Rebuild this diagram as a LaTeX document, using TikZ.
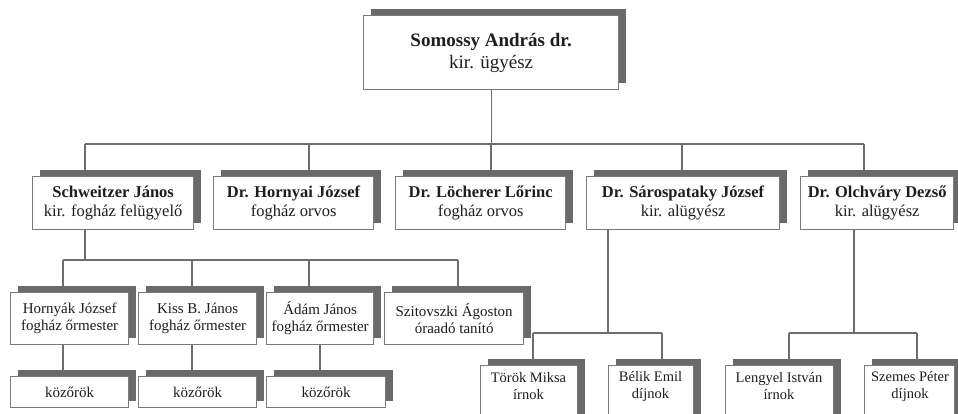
\documentclass[tikz,border=0pt]{standalone}
\usepackage{fontspec}
\setmainfont{Liberation Serif}
\usetikzlibrary{shadows}
\pgfdeclarelayer{bg}
\pgfsetlayers{bg,main}
\definecolor{linegray}{HTML}{6E6E6E}
\definecolor{boxgray}{HTML}{7A7A7A}
\definecolor{shadowgray}{HTML}{6A6A6A}
\definecolor{inkcol}{HTML}{1E1E1E}
\begin{document}
\begin{tikzpicture}[x=1pt,y=-1pt,
  card/.style={draw=boxgray, line width=1.3pt, fill=white, align=center, inner sep=0pt,
    anchor=north west, text=inkcol,
    general shadow={fill=shadowgray, shadow xshift=7pt, shadow yshift=7pt}},
  conn/.style={draw=linegray, line width=1.3pt},
  fa/.style={font=\fontsize{19}{22}\selectfont},
  fb/.style={font=\fontsize{16.5}{19}\selectfont},
  fc/.style={font=\fontsize{15}{17}\selectfont},
  fd/.style={font=\fontsize{14.5}{17}\selectfont, align=center, text=inkcol},
]
\useasboundingbox (0,0) rectangle (958,413);
\clip (0,0) rectangle (958,413);

% level 1
\node[card,fa,minimum width=255pt,minimum height=74pt] (top) at (363,15)
  {\textbf{Somossy András dr.}\\kir. ügyész};

% level 2
\node[card,fb,minimum width=161pt,minimum height=53pt] (s1) at (32,176)
  {\textbf{Schweitzer János}\\kir. fogház felügyelő};
\node[card,fb,minimum width=160pt,minimum height=53pt] (s2) at (213,176)
  {\textbf{Dr. Hornyai József}\\fogház orvos};
\node[card,fb,minimum width=170pt,minimum height=53pt] (s3) at (395,176)
  {\textbf{Dr. Löcherer Lőrinc}\\fogház orvos};
\node[card,fb,minimum width=193pt,minimum height=53pt] (s4) at (586,176)
  {\textbf{Dr. Sárospataky József}\\kir. alügyész};
\node[card,fb,minimum width=153pt,minimum height=53pt] (s5) at (800,176)
  {\textbf{Dr. Olchváry Dezső}\\kir. alügyész};

% level 3
\node[card,fc,minimum width=118pt,minimum height=52pt] (g1) at (10,292)
  {Hornyák József\\fogház őrmester};
\node[card,fc,minimum width=118pt,minimum height=52pt] (g2) at (138,292)
  {Kiss B. János\\fogház őrmester};
\node[card,fc,minimum width=107pt,minimum height=52pt] (g3) at (266,292)
  {Ádám János\\fogház őrmester};
\node[card,fc,minimum width=139pt,minimum height=52pt] (g4) at (384,292)
  {Szitovszki Ágoston\\óraadó tanító};

% level 4 left
\node[card,fc,minimum width=118pt,minimum height=31pt] (k1) at (10,376) {közőrök};
\node[card,fc,minimum width=118pt,minimum height=31pt] (k2) at (138,376) {közőrök};
\node[card,fc,minimum width=119pt,minimum height=31pt] (k3) at (266,376) {közőrök};

% level 4 right (cut off at the bottom)
\node[card,minimum width=97pt,minimum height=60pt] (c1) at (480,365) {};
\node[card,minimum width=85pt,minimum height=60pt] (c2) at (608,365) {};
\node[card,minimum width=108pt,minimum height=60pt] (c3) at (725,365) {};
\node[card,minimum width=90pt,minimum height=60pt] (c4) at (864,365) {};
\node[fd] (c1t) at (528.5,386.5) {Török Miksa\\írnok};
\node[fd] (c2t) at (650.5,386.5) {Bélik Emil\\díjnok};
\node[fd] (c3t) at (779,386.5) {Lengyel István\\írnok};
\node[fd] (c4t) at (910,386.5) {Szemes Péter\\díjnok};

\begin{pgfonlayer}{bg}
  % top to level 2
  \coordinate (j1) at (85,144);
  \coordinate (j2) at (309,144);
  \coordinate (j3) at (491,144);
  \coordinate (j4) at (682,144);
  \coordinate (j5) at (864,144);
  \draw[conn] (top.south) -- (top.south |- j1);
  \draw[conn] (j1) -- (j5);
  \draw[conn] (j1) -- (j1 |- s1.north);
  \draw[conn] (j2) -- (j2 |- s2.north);
  \draw[conn] (j3) -- (j3 |- s3.north);
  \draw[conn] (j4) -- (j4 |- s4.north);
  \draw[conn] (j5) -- (j5 |- s5.north);
  % Schweitzer to level 3
  \coordinate (d0) at (85,260);
  \coordinate (d1) at (63,260);
  \coordinate (d2) at (192,260);
  \coordinate (d3) at (309,260);
  \coordinate (d4) at (458,260);
  \draw[conn] (d0 |- s1.south) -- (d0);
  \draw[conn] (d1) -- (d4);
  \draw[conn] (d1) -- (d1 |- g1.north);
  \draw[conn] (d2) -- (d2 |- g2.north);
  \draw[conn] (d3) -- (d3 |- g3.north);
  \draw[conn] (d4) -- (d4 |- g4.north);
  % level 3 to level 4
  \coordinate (v1) at (63,360);
  \coordinate (v2) at (192,360);
  \coordinate (v3) at (320,360);
  \draw[conn] (v1 |- g1.south) -- (v1 |- k1.north);
  \draw[conn] (v2 |- g2.south) -- (v2 |- k2.north);
  \draw[conn] (v3 |- g3.south) -- (v3 |- k3.north);
  % Sárospataky
  \coordinate (e0) at (608,333);
  \coordinate (e1) at (533,333);
  \coordinate (e2) at (662,333);
  \draw[conn] (e0 |- s4.south) -- (e0);
  \draw[conn] (e1) -- (e2);
  \draw[conn] (e1) -- (e1 |- c1.north);
  \draw[conn] (e2) -- (e2 |- c2.north);
  % Olchváry
  \coordinate (f0) at (854,333);
  \coordinate (f1) at (789,333);
  \coordinate (f2) at (917,333);
  \draw[conn] (f0 |- s5.south) -- (f0);
  \draw[conn] (f1) -- (f2);
  \draw[conn] (f1) -- (f1 |- c3.north);
  \draw[conn] (f2) -- (f2 |- c4.north);
\end{pgfonlayer}
\end{tikzpicture}
\end{document}
